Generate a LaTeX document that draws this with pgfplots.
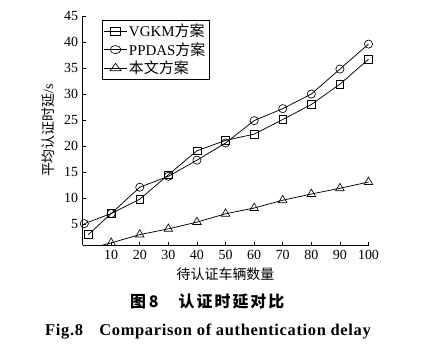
\documentclass[border=0pt]{standalone}
\usepackage{pgfplots}
\pgfplotsset{compat=1.18}
\usetikzlibrary{calc}
\usepackage{fontspec}
\setmainfont{Liberation Serif}
\newfontfamily\cjk{Noto Sans CJK SC}
\newfontfamily\capfont[LetterSpace=4]{Liberation Serif}
\begin{document}
\begin{tikzpicture}
\path[use as bounding box] (-82.6bp,-115bp) rectangle (354.4bp,245bp);
\begin{axis}[
  at={(0,0)}, anchor=south west,
  scale only axis,
  width=285.9bp, height=229bp,
  xmin=0, xmax=100, ymin=1, ymax=45,
  axis lines=left,
  axis line style={-, line width=0.8pt},
  xtick={10,20,...,100},
  ytick={5,10,...,45},
  tick align=inside,
  major tick length=3.5bp,
  tick style={line width=0.6pt, black},
  tick label style={font=\fontsize{14}{14}\selectfont},
  /pgf/number format/assume math mode=true,
  xticklabel style={yshift=-2bp},
  yticklabel style={xshift=-1bp},
  xlabel={\cjk 待认证车辆数量},
  ylabel={\cjk 平均认证时延\rmfamily/s},
  label style={font=\fontsize{14}{14}\selectfont},
  xlabel style={yshift=-1bp},
  ylabel style={yshift=3bp},
  legend style={at={(rel axis cs:0.069,0.982)}, anchor=north west,
    draw=black, line width=0.6pt, font=\fontsize{15}{15}\selectfont,
    inner sep=1.5bp, row sep=0.5bp, cells={anchor=west}},
  legend image post style={xscale=1.3},
  legend cell align=left,
  every axis plot/.append style={line width=0.75pt, black},
  mark options={solid, fill=white, line width=0.65pt},
]
\addplot[mark=square, mark size=3.9bp] coordinates {
  (2,3.0) (10,7.05) (20,9.8) (30,14.5) (40,19.1) (50,21.1) (60,22.3) (70,25.1) (80,28.0) (90,31.9) (100,36.7)};
\addlegendentry{VGKM{\cjk 方案}}
\addplot[mark=o, mark size=4.1bp] coordinates {
  (0.6,5.1) (10,7.05) (20,12.1) (30,14.2) (40,17.3) (50,20.6) (60,24.9) (70,27.2) (80,30.0) (90,34.8) (100,39.6)};
\addlegendentry{PPDAS{\cjk 方案}}
\addplot[mark=triangle, mark size=4.9bp] coordinates {
  (10,1.4) (20,3.0) (30,4.1) (40,5.4) (50,7.0) (60,8.1) (70,9.6) (80,10.8) (90,11.9) (100,13.1)};
\addlegendentry{\cjk 本文方案}
\addplot[forget plot, no marks] coordinates {(0,0) (10,1.4)};
\node[anchor=north, font=\fontsize{14}{14}\selectfont] at ($(axis cs:0,1)+(-10bp,-5bp)$) {0};
\end{axis}
\node[font=\cjk\bfseries\fontsize{16}{16}\selectfont] at (124.6bp,-57bp) {图\kern3bp 8\kern20bp 认\kern2bp 证\kern2bp 时\kern2bp 延\kern2bp 对\kern2bp 比};
\node[font=\capfont\bfseries\fontsize{16.5}{16.5}\selectfont] at (125.4bp,-87bp) {Fig.8\quad Comparison of authentication delay};
\end{tikzpicture}
\end{document}
